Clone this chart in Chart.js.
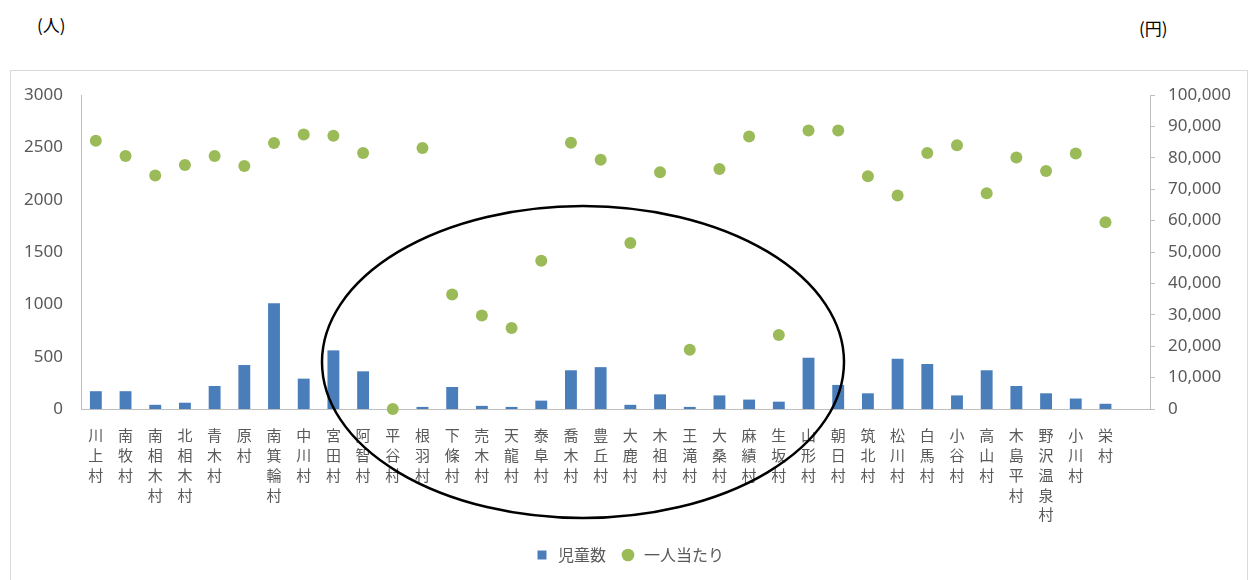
<!DOCTYPE html>
<html>
<head>
<meta charset="utf-8">
<script src="https://cdn.jsdelivr.net/npm/chart.js"></script>
<style>
body{margin:0;background:#fff;width:1254px;height:580px;overflow:hidden;position:relative;font-family:"Noto Sans CJK JP",sans-serif}
.unit{position:absolute;font-size:17px;color:#000}
#box{position:absolute;left:10px;top:70px;width:1236px;height:518px;border:1px solid #d9d9d9}
</style>
</head>
<body>
<div class="unit" style="left:37px;top:12px">(人)</div>
<div class="unit" style="left:1139px;top:15px">(円)</div>
<div id="box"><canvas id="chart" width="1236" height="518"></canvas></div>
<script>
//村ごとのデータ (last category is an empty slot, like the original sheet)
const villages = ['川上村','南牧村','南相木村','北相木村','青木村','原村','南箕輪村','中川村','宮田村','阿智村',
    '平谷村','根羽村','下條村','売木村','天龍村','泰阜村','喬木村','豊丘村','大鹿村','木祖村',
    '王滝村','大桑村','麻績村','生坂村','山形村','朝日村','筑北村','松川村','白馬村','小谷村',
    '高山村','木島平村','野沢温泉村','小川村','栄村',''];
const children = [170,170,40,60,220,420,1010,290,560,360,
    0,20,210,30,20,80,370,400,40,140,
    20,130,90,70,490,230,150,480,430,130,
    370,220,150,100,50,null];
const perChild = [85400,80600,74400,77700,80600,77400,84700,87400,87000,81500,
    0,83100,36500,29800,25800,47200,84800,79400,52900,75400,
    18900,76400,86800,23600,88700,88700,74100,68000,81500,84000,
    68700,80100,75800,81400,59500,null];
const leftTicks = [0,500,1000,1500,2000,2500,3000];
const rightTicks = [0,10000,20000,30000,40000,50000,60000,70000,80000,90000,100000];

const grey = '#595959';
const axisGrey = '#bfbfbf';

//hand drawn ellipse on top of the chart
const circleMark = {
    id: 'circleMark',
    afterDraw(chart) {
        const ctx = chart.ctx;
        ctx.save();
        ctx.beginPath();
        ctx.ellipse(572, 291, 261, 156, 0, 0, Math.PI * 2);
        ctx.lineWidth = 2.5;
        ctx.strokeStyle = '#000';
        ctx.stroke();
        ctx.restore();
    }
};

const canvas = document.querySelector('#chart');

new Chart(canvas.getContext('2d'), {
    data: {
        labels: villages,
        datasets: [{
            type: 'bar',
            label: '児童数',
            data: children,
            backgroundColor: '#4a7ebb',
            yAxisID: 'y',
            barPercentage: 0.4,
            categoryPercentage: 1,
            pointStyle: 'rect'
        }, {
            type: 'line',
            label: '一人当たり',
            data: perChild,
            showLine: false,
            yAxisID: 'y1',
            pointRadius: 6,
            pointHoverRadius: 6,
            pointBackgroundColor: '#9bbb59',
            pointBorderWidth: 0,
            backgroundColor: '#9bbb59',
            borderColor: '#9bbb59',
            pointStyle: 'circle',
            clip: false
        }]
    },
    options: {
        responsive: false,
        animation: false,
        layout: { padding: { top: 24, bottom: 16, left: 0, right: 0 } },
        plugins: {
            tooltip: { enabled: false },
            legend: {
                position: 'bottom',
                labels: {
                    usePointStyle: true,
                    boxHeight: 9,
                    padding: 14,
                    color: grey,
                    font: { family: '"Noto Sans CJK JP"', size: 16 }
                }
            }
        },
        scales: {
            x: {
                grid: { display: false },
                border: { display: true, color: axisGrey, width: 1 },
                afterFit: scale => { scale.height = 124; },
                ticks: {
                    autoSkip: false,
                    maxRotation: 0,
                    minRotation: 0,
                    padding: 8,
                    color: grey,
                    font: { family: '"Noto Sans CJK JP"', size: 15, lineHeight: 1.33 },
                    callback: function(value) {
                        const name = this.getLabelForValue(value);
                        return name ? name.split('') : '';
                    }
                }
            },
            y: {
                position: 'left',
                min: 0,
                max: 3000,
                afterBuildTicks: scale => { scale.ticks = leftTicks.map(v => ({ value: v })); },
                afterFit: scale => { scale.width = 70; },
                grid: { display: false },
                border: { display: true, color: axisGrey, width: 1 },
                ticks: {
                    padding: 10,
                    color: grey,
                    font: { family: '"Noto Sans"', size: 17 },
                    callback: v => String(v)
                }
            },
            y1: {
                position: 'right',
                min: 0,
                max: 100000,
                afterBuildTicks: scale => { scale.ticks = rightTicks.map(v => ({ value: v })); },
                afterFit: scale => { scale.width = 97; },
                grid: { drawOnChartArea: false, drawTicks: true, tickLength: 5, color: axisGrey },
                border: { display: true, color: axisGrey, width: 1 },
                ticks: {
                    padding: 13,
                    color: grey,
                    font: { family: '"Noto Sans"', size: 17 },
                    callback: v => v.toLocaleString('en-US')
                }
            }
        }
    },
    plugins: [circleMark]
});
</script>
</body>
</html>
